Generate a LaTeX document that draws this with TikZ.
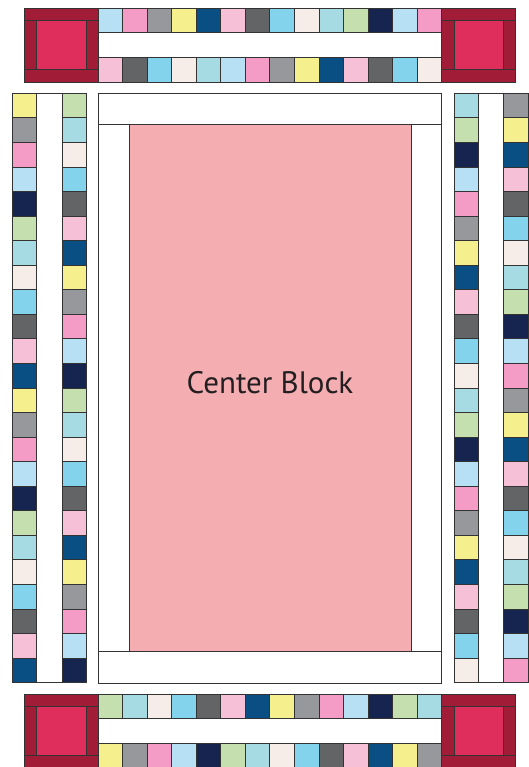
\documentclass[tikz,border=0pt]{standalone}
\usepackage{fontspec}
\setmainfont{PT Sans}
\definecolor{cLB}{HTML}{B7E0F5}
\definecolor{cPK}{HTML}{F49BC6}
\definecolor{cGR}{HTML}{97989B}
\definecolor{cYE}{HTML}{F5F08D}
\definecolor{cBL}{HTML}{0A4F83}
\definecolor{cLP}{HTML}{F6C1D6}
\definecolor{cDG}{HTML}{636466}
\definecolor{cCY}{HTML}{83D3EC}
\definecolor{cCR}{HTML}{F6ECE8}
\definecolor{cTE}{HTML}{A6DBE3}
\definecolor{cGN}{HTML}{C6DFAE}
\definecolor{cNV}{HTML}{16254F}
\definecolor{cDR}{HTML}{A11C37}
\definecolor{cRR}{HTML}{DF2D5C}
\definecolor{cCP}{HTML}{F4AEB2}
\definecolor{cLN}{HTML}{333333}
\definecolor{cTX}{HTML}{231F20}
\tikzset{
  sq/.style={draw=cLN, line width=0.9pt},
  frame/.style={draw=cLN, line width=0.9pt, fill=white},
}
\newcommand{\hrow}[3]{% x0, y0, list
  \foreach \c [count=\i from 0] in {#3}
    \filldraw[sq, fill=\c] ({#1+\i*24.56},#2) rectangle ++(24.56,24.6);}
\newcommand{\vcol}[3]{% x0, y0, list
  \foreach \c [count=\i from 0] in {#3}
    \filldraw[sq, fill=\c] (#1,{#2+\i*24.56}) rectangle ++(24.6,24.56);}
\newcommand{\quiltcorner}[2]{% x, y
  \filldraw[sq, fill=cDR] (#1,#2) rectangle ++(74,74);
  \filldraw[sq, fill=cRR] ({#1+12.8},{#2+12.5}) rectangle ({#1+62},{#2+61.5});
  \draw[sq] (#1,{#2+12.5}) -- ++(74,0);
  \draw[sq] (#1,{#2+61.5}) -- ++(74,0);
  \draw[sq] ({#1+12.8},{#2+12.5}) -- ({#1+12.8},{#2+61.5});
  \draw[sq] ({#1+62},{#2+12.5}) -- ({#1+62},{#2+61.5});}
\begin{document}
\begin{tikzpicture}[x=1pt,y=-1pt]
\useasboundingbox (0,0) rectangle (529,767);
% top border
\filldraw[frame] (98,8) rectangle (441.9,82);
\hrow{98}{8}{cLB,cPK,cGR,cYE,cBL,cLP,cDG,cCY,cCR,cTE,cGN,cNV,cLB,cPK}
\hrow{98}{57.4}{cLP,cDG,cCY,cCR,cTE,cLB,cPK,cGR,cYE,cBL,cLP,cDG,cCY,cCR}
\quiltcorner{24}{8}
\quiltcorner{441.9}{8}
% bottom border
\filldraw[frame] (98,694) rectangle (441.9,768);
\hrow{98}{694}{cGN,cTE,cCR,cCY,cDG,cLP,cBL,cYE,cGR,cPK,cLB,cNV,cGN,cTE}
\hrow{98}{743.4}{cYE,cGR,cPK,cLB,cNV,cGN,cTE,cCR,cCY,cDG,cLP,cBL,cYE,cGR}
\quiltcorner{24}{694}
\quiltcorner{441.9}{694}
% left column
\filldraw[frame] (12,93.3) rectangle (86.6,682.7);
\vcol{12}{93.3}{cYE,cGR,cPK,cLB,cNV,cGN,cTE,cCR,cCY,cDG,cLP,cBL,cYE,cGR,cPK,cLB,cNV,cGN,cTE,cCR,cCY,cDG,cLP,cBL}
\vcol{62}{93.3}{cGN,cTE,cCR,cCY,cDG,cLP,cBL,cYE,cGR,cPK,cLB,cNV,cGN,cTE,cCR,cCY,cDG,cLP,cBL,cYE,cGR,cPK,cLB,cNV}
% right column
\filldraw[frame] (454,93.3) rectangle (528,682.7);
\vcol{454}{93.3}{cTE,cGN,cNV,cLB,cPK,cGR,cYE,cBL,cLP,cDG,cCY,cCR,cTE,cGN,cNV,cLB,cPK,cGR,cYE,cBL,cLP,cDG,cCY,cCR}
\vcol{503.4}{93.3}{cGR,cYE,cBL,cLP,cDG,cCY,cCR,cTE,cGN,cNV,cLB,cPK,cGR,cYE,cBL,cLP,cDG,cCY,cCR,cTE,cGN,cNV,cLB,cPK}
% center block
\filldraw[frame] (98,93) rectangle (441.9,683);
\draw[sq] (98,124.3) -- (441.9,124.3);
\draw[sq] (98,651.7) -- (441.9,651.7);
\filldraw[sq, fill=cCP] (129.3,124.3) rectangle (411,651.7);
\node[text=cTX, font=\fontsize{31}{36}\selectfont] (label) at (270,383) {Center Block};
\end{tikzpicture}
\end{document}
